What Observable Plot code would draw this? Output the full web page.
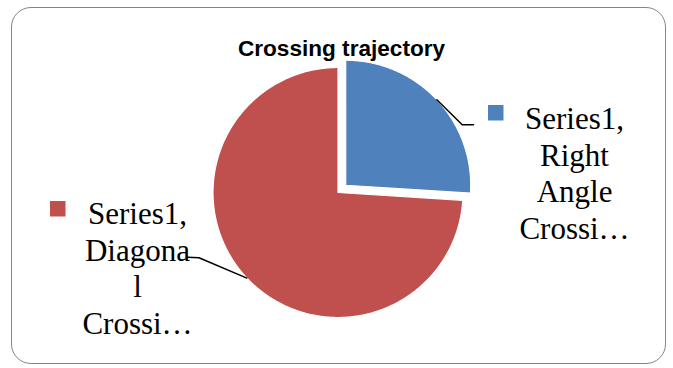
<!DOCTYPE html>
<html>
<head>
<meta charset="utf-8">
<script src="https://cdn.jsdelivr.net/npm/d3@7"></script>
<script src="https://cdn.jsdelivr.net/npm/@observablehq/plot@0.6"></script>
<style>
  html, body { margin: 0; padding: 0; background: #fff; }
  #wrap { position: relative; width: 673px; height: 368px; }
  #frame { position: absolute; left: 11px; top: 7px; width: 653px; height: 355px;
           border: 1.8px solid #858585; border-radius: 20px; pointer-events: none; }
</style>
</head>
<body>
<div id="wrap"><div id="frame"></div></div>
<script>
const title = "Crossing trajectory";
const categories = ["Right Angle Crossing", "Diagonal Crossing"];
const values = [26, 74];
const legendLabels = ["Series1,\nRight\nAngle\nCrossi…", "Series1,\nDiagona\nl\nCrossi…"];
const colors = ["#4F81BD", "#C0504D"];

// layout (pixels)
const W = 673, H = 368;
const cx = 337.5, cy = 192, R = 125;
const explode = [10.6, 0];
const labelPos = [{x: 574, y: 102, sq: [488, 105]}, {x: 137, y: 197, sq: [50, 201]}];
const knees = [[[461.7, 124.3], [473, 124.3]], [[198.5, 257.3], [187, 256.8]]];

const arcs = d3.pie().sort(null)(values);
const polys = [];
const leaders = [];
arcs.forEach((a, i) => {
  const mid = (a.startAngle + a.endAngle) / 2;
  const ox = cx + explode[i] * Math.sin(mid), oy = cy - explode[i] * Math.cos(mid);
  const cat = categories[i];
  polys.push({cat, x: ox, y: oy});
  const n = Math.max(2, Math.ceil((a.endAngle - a.startAngle) / (Math.PI / 360)));
  for (let k = 0; k <= n; k++) {
    const t = a.startAngle + (a.endAngle - a.startAngle) * k / n;
    polys.push({cat, x: ox + R * Math.sin(t), y: oy - R * Math.cos(t)});
  }
  polys.push({cat, x: ox, y: oy});
  leaders.push({cat, x: ox + R * Math.sin(mid), y: oy - R * Math.cos(mid)});
  knees[i].forEach(p => leaders.push({cat, x: p[0], y: p[1]}));
});

const legend = categories.map((c, i) => ({
  cat: c, label: legendLabels[i], x: labelPos[i].x, y: labelPos[i].y,
  x1: labelPos[i].sq[0], x2: labelPos[i].sq[0] + 15.5,
  y1: labelPos[i].sq[1], y2: labelPos[i].sq[1] + 15.5
}));

const chart = Plot.plot({
  width: W, height: H,
  margin: 0,
  x: {domain: [0, W], range: [0, W], axis: null},
  y: {domain: [0, H], range: [0, H], axis: null},
  color: {domain: categories, range: colors},
  marks: [
    Plot.line(polys, {x: "x", y: "y", z: "cat", fill: "cat", stroke: "white", strokeWidth: 1.2, curve: "linear"}),
    Plot.line(leaders, {x: "x", y: "y", z: "cat", stroke: "black", strokeWidth: 1.5, curve: "linear"}),
    Plot.rect(legend, {x1: "x1", x2: "x2", y1: "y1", y2: "y2", fill: "cat"}),
    Plot.text(legend, {x: "x", y: "y", text: "label", lineAnchor: "top", lineHeight: 1.19,
      fontFamily: "Liberation Serif", fontSize: 31, fill: "black", textAnchor: "middle"}),
    Plot.text([title], {x: () => 341, y: () => 55, text: d => d, lineAnchor: "bottom",
      fontFamily: "Liberation Sans", fontWeight: "bold", fontSize: 22.6, fill: "black", textAnchor: "middle"})
  ]
});
chart.style.position = "absolute";
chart.style.left = "0px";
chart.style.top = "0px";
document.getElementById("wrap").appendChild(chart);
</script>
</body>
</html>
